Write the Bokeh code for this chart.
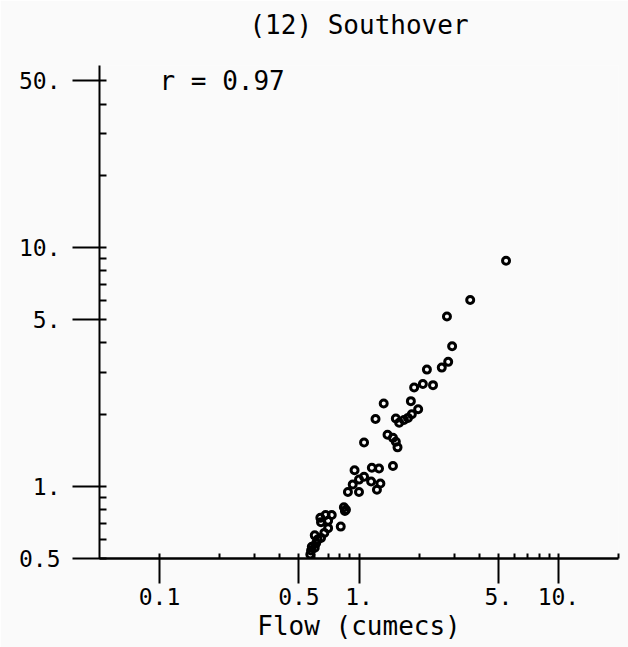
from bokeh.plotting import figure
from bokeh.models import FixedTicker, Label, Title
from bokeh.embed import file_html
from bokeh.resources import INLINE

# Data (flow in cumecs vs. response)
flow = [5.46, 3.61, 2.76, 2.93, 2.80, 2.60, 2.19, 2.35, 2.09, 1.89,
        1.82, 1.98, 1.84, 1.76, 1.68, 1.59, 1.53, 1.33, 1.21, 1.39,
        1.48, 1.53, 1.56, 1.06, 1.48, 0.95, 1.16, 1.26, 1.06, 1.00,
        1.15, 1.28, 1.23, 1.00, 0.88, 0.93, 0.84, 0.86, 0.85, 0.81,
        0.73, 0.68, 0.64, 0.645, 0.70, 0.70, 0.60, 0.67, 0.645, 0.61,
        0.62, 0.58, 0.60, 0.575, 0.57]
value = [8.83, 6.05, 5.16, 3.87, 3.33, 3.15, 3.09, 2.66, 2.69, 2.60,
         2.28, 2.11, 2.01, 1.94, 1.90, 1.85, 1.93, 2.23, 1.92, 1.65,
         1.60, 1.54, 1.46, 1.53, 1.22, 1.17, 1.20, 1.19, 1.10, 1.07,
         1.05, 1.03, 0.97, 0.95, 0.95, 1.02, 0.82, 0.80, 0.79, 0.68,
         0.76, 0.76, 0.74, 0.71, 0.72, 0.67, 0.625, 0.64, 0.61, 0.58,
         0.60, 0.56, 0.555, 0.54, 0.52]

x_ticks = [0.1, 0.5, 1, 5, 10]
x_tick_labels = ["0.1", "0.5", "1.", "5.", "10."]
x_minor = [0.2, 0.3, 0.4, 0.6, 0.7, 0.8, 0.9, 2, 3, 4, 6, 7, 8, 9, 20]
y_ticks = [0.5, 1, 5, 10, 50]
y_tick_labels = ["0.5", "1.", "5.", "10.", "50."]
y_minor = [0.6, 0.7, 0.8, 0.9, 2, 3, 4, 6, 7, 8, 9, 20, 30, 40]

title_text = "(12) Southover"
x_label = "Flow (cumecs)"
r_text = "r = 0.97"

FONT = "DejaVu Sans Mono"
BG = "#fafafa"

p = figure(width=628, height=647, x_axis_type="log", y_axis_type="log",
           x_range=(0.05, 20), y_range=(0.5, 58),
           output_backend="svg", toolbar_location=None,
           min_border_left=99, min_border_right=10,
           min_border_top=65, min_border_bottom=89,
           background_fill_color=BG, border_fill_color=BG)
p.title = None

# spacer panel next to the frame, then the real title above it
p.add_layout(Title(text=" ", text_font_size="10px", standoff=13), "above")
p.add_layout(Title(text=title_text, align="center", text_font=FONT,
                   text_font_size="26px", text_font_style="normal",
                   text_color="black", standoff=0), "above")

p.grid.visible = False
p.outline_line_color = None

xa = p.xaxis[0]
xa.ticker = FixedTicker(ticks=x_ticks, minor_ticks=x_minor)
xa.major_label_overrides = {float(t): l for t, l in zip(x_ticks, x_tick_labels)}
xa.axis_label = x_label
xa.axis_label_text_font = FONT
xa.axis_label_text_font_size = "26px"
xa.axis_label_text_font_style = "normal"
xa.axis_label_text_color = "black"
xa.axis_label_standoff = 3
xa.major_label_text_font = FONT
xa.major_label_text_font_size = "23px"
xa.major_label_text_color = "black"
xa.major_label_standoff = 4
xa.axis_line_width = 2.5
xa.major_tick_line_width = 2
xa.minor_tick_line_width = 2
xa.major_tick_in = 5
xa.major_tick_out = 25
xa.minor_tick_in = 5
xa.minor_tick_out = 0

ya = p.yaxis[0]
ya.ticker = FixedTicker(ticks=y_ticks, minor_ticks=y_minor)
ya.major_label_overrides = {float(t): l for t, l in zip(y_ticks, y_tick_labels)}
ya.major_label_text_font = FONT
ya.major_label_text_font_size = "23px"
ya.major_label_text_color = "black"
ya.major_label_standoff = 12
ya.axis_line_width = 2
ya.major_tick_line_width = 2
ya.minor_tick_line_width = 2
ya.major_tick_in = 7
ya.major_tick_out = 27
ya.minor_tick_in = 7
ya.minor_tick_out = 0

p.scatter(flow, value, marker="circle", size=7, fill_color=None,
          line_color="black", line_width=3)

p.add_layout(Label(x=0.1, y=50, text=r_text, text_font=FONT,
                   text_font_size="26px", text_baseline="middle",
                   text_align="left", text_color="black"))

open("out.html", "w").write(file_html(p, INLINE))
